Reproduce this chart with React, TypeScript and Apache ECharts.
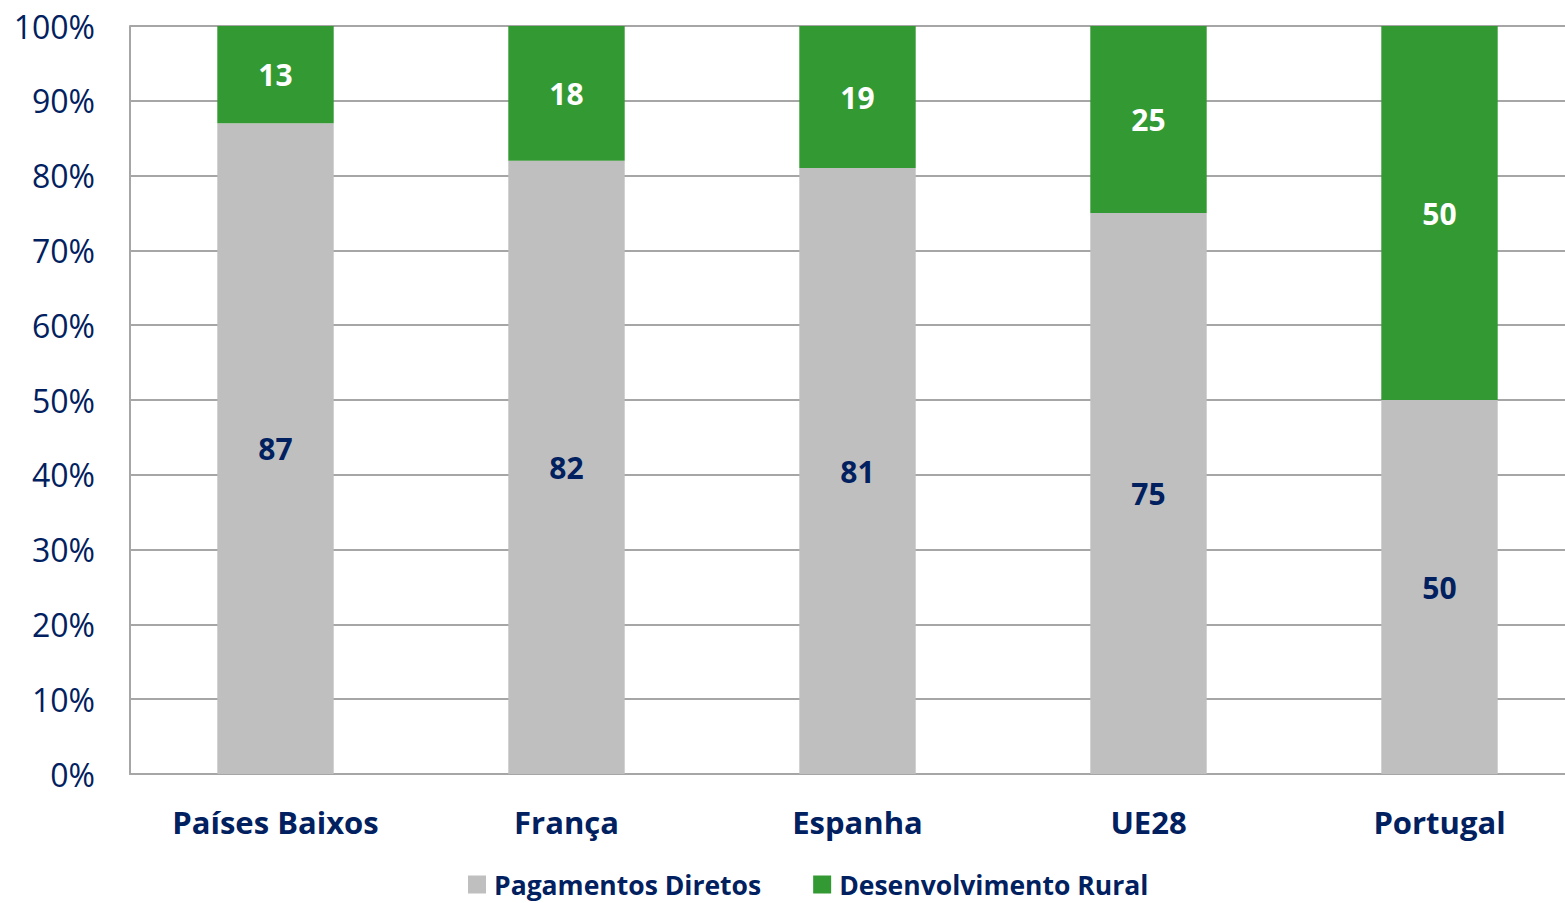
import React, { useEffect, useRef } from "react";
import * as echarts from "echarts";

const categories = ["Países Baixos", "França", "Espanha", "UE28", "Portugal"];
const pagamentosDiretos = [87, 82, 81, 75, 50];
const desenvolvimentoRural = [13, 18, 19, 25, 50];
const seriesNames = ["Pagamentos Diretos", "Desenvolvimento Rural"];

const NAVY = "#002060";
const FONT = "'Open Sans', 'Noto Sans', sans-serif";

export default function App() {
  const ref = useRef<HTMLDivElement>(null);
  useEffect(() => {
    if (!ref.current) return;
    const chart = echarts.init(ref.current, null, { renderer: "svg" });
    chart.setOption({
      animation: false,
      textStyle: { fontFamily: FONT },
      grid: { left: 130, right: 0, top: 26, bottom: 129, containLabel: false },
      legend: {
        bottom: 0,
        left: 463,
        itemWidth: 18,
        itemHeight: 18,
        itemGap: 52,
        icon: "rect",
        textStyle: { color: NAVY, fontSize: 26.5, fontWeight: "bold", fontFamily: FONT, padding: [0, 0, 0, 3] },
        data: seriesNames,
      },
      xAxis: {
        type: "category",
        data: categories,
        axisLine: { lineStyle: { color: "#A6A6A6", width: 2 } },
        axisTick: { show: false },
        axisLabel: { color: NAVY, fontSize: 31, fontWeight: "bold", margin: 32, fontFamily: FONT },
      },
      yAxis: {
        type: "value",
        min: 0,
        max: 100,
        interval: 10,
        axisLine: { show: true, lineStyle: { color: "#A6A6A6", width: 2 } },
        axisTick: { show: false },
        splitLine: { lineStyle: { color: "#A6A6A6", width: 2 } },
        axisLabel: { color: NAVY, fontSize: 32, margin: 35, formatter: "{value}%", fontFamily: FONT },
      },
      series: [
        {
          name: seriesNames[0],
          type: "bar",
          stack: "total",
          barWidth: "40%",
          data: pagamentosDiretos,
          itemStyle: { color: "#BFBFBF" },
          label: { show: true, position: "inside", color: NAVY, fontSize: 30, fontWeight: "bold", fontFamily: FONT },
        },
        {
          name: seriesNames[1],
          type: "bar",
          stack: "total",
          barWidth: "40%",
          data: desenvolvimentoRural,
          itemStyle: { color: "#339933" },
          label: { show: true, position: "inside", color: "#FFFFFF", fontSize: 30, fontWeight: "bold", fontFamily: FONT },
        },
      ],
    });
    return () => chart.dispose();
  }, []);
  return (
    <div style={{ position: "fixed", left: 0, top: 0, width: 1565, height: 903, overflow: "hidden", background: "#fff" }}>
      <div ref={ref} style={{ width: 1585, height: 903 }} />
    </div>
  );
}
